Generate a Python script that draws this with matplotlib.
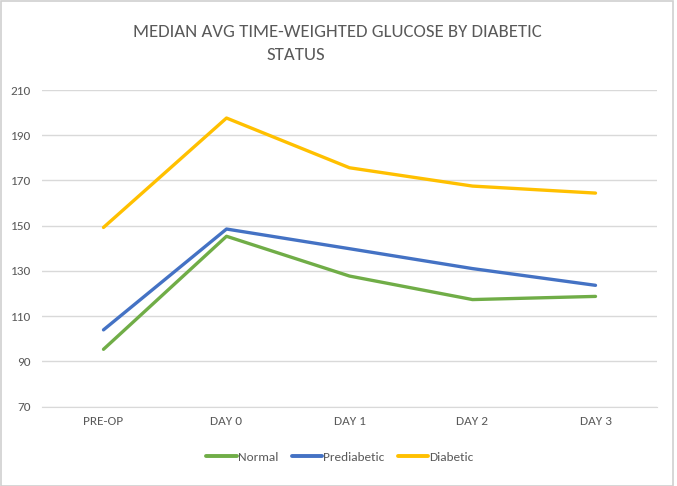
import matplotlib
matplotlib.use("Agg")
import matplotlib.pyplot as plt
from matplotlib.patches import Rectangle

categories = ["PRE-OP", "DAY 0", "DAY 1", "DAY 2", "DAY 3"]
normal = [95.3, 145.3, 127.7, 117.3, 118.7]
prediabetic = [103.9, 148.5, 139.8, 131.0, 123.6]
diabetic = [149.2, 197.6, 175.6, 167.5, 164.4]
yticks = [70, 90, 110, 130, 150, 170, 190, 210]

FONT = ["Carlito", "Open Sans", "DejaVu Sans"]
GREY = "#595959"

W, H = 677, 486
fig = plt.figure(figsize=(W / 100, H / 100), dpi=100)
fig.patch.set_facecolor("white")
fig.patches.append(Rectangle((0.5 / W, 0.5 / H), 1 - 4.5 / W, 1 - 1.5 / H,
                             transform=fig.transFigure, fill=False,
                             edgecolor="#d0d0d0", linewidth=1.2))

ax = fig.add_axes([42 / W, 1 - 406.5 / H, (657 - 42) / W, (406.5 - 90) / H])
x = list(range(len(categories)))
ax.plot(x, normal, color="#70AD47", lw=2.4, label="Normal", solid_capstyle="round")
ax.plot(x, prediabetic, color="#4472C4", lw=2.4, label="Prediabetic", solid_capstyle="round")
ax.plot(x, diabetic, color="#FFC000", lw=2.4, label="Diabetic", solid_capstyle="round")

ax.set_xlim(-0.5, len(categories) - 0.5)
ax.set_ylim(70, 210)
ax.set_yticks(yticks)
ax.set_xticks(x)
ax.set_xticklabels(categories)
ax.grid(axis="y", color="#d9d9d9", lw=1)
ax.set_axisbelow(True)
for s in ["top", "right", "left"]:
    ax.spines[s].set_visible(False)
ax.spines["bottom"].set_color("#d9d9d9")
ax.tick_params(length=0, labelsize=9.5, labelcolor=GREY)
ax.tick_params(axis="x", pad=7)
ax.tick_params(axis="y", pad=8)
for lbl in ax.get_xticklabels() + ax.get_yticklabels():
    lbl.set_family(FONT)

fig.text(337 / W, 1 - 31.7 / H, "MEDIAN AVG TIME-WEIGHTED GLUCOSE BY DIABETIC",
         ha="center", va="center", fontsize=13.5, color=GREY, family=FONT)
fig.text(296 / W, 1 - 55.3 / H, "STATUS",
         ha="center", va="center", fontsize=13.5, color=GREY, family=FONT)

leg = fig.legend(loc="center", bbox_to_anchor=(340 / W, 1 - 457 / H), ncol=3,
                 frameon=False, handlelength=2.3, handletextpad=0.1,
                 columnspacing=1.0, labelcolor=GREY,
                 prop={"family": FONT, "size": 9.5})
for line in leg.get_lines():
    line.set_linewidth(2.8)
fig.savefig("out.png", dpi=100)
